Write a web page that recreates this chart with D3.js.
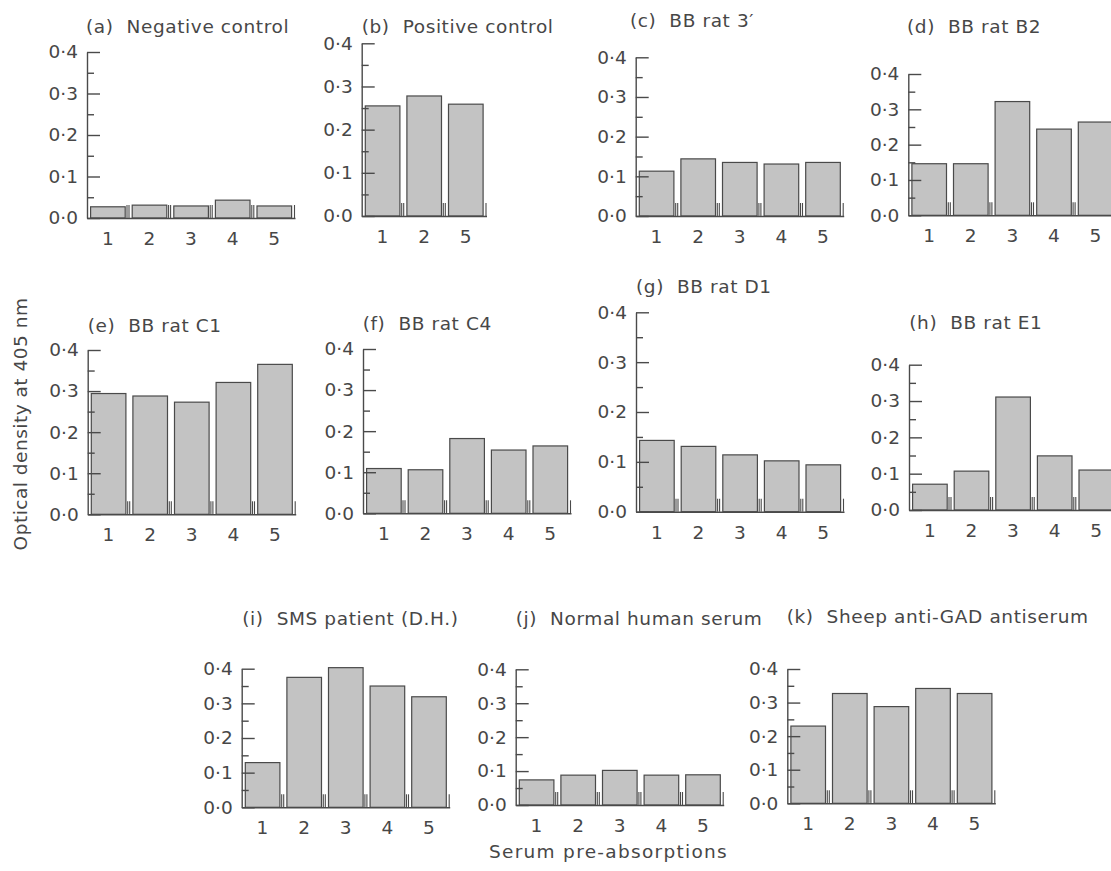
<!DOCTYPE html>
<html>
<head>
<meta charset="utf-8">
<script src="https://cdn.jsdelivr.net/npm/d3@7"></script>
<style>
  html, body { margin: 0; padding: 0; background: #ffffff; }
  svg { display: block; }
  text { font-family: "DejaVu Sans", "Liberation Sans", sans-serif; fill: #474747; }
</style>
</head>
<body>
<svg id="chart" width="1111" height="871"></svg>
<script>
// ---------------- data ----------------
const catsFive = ["1", "2", "3", "4", "5"];
const catsPositive = ["1", "2", "5"];
const yTickValues = [0, 0.1, 0.2, 0.3, 0.4];
const yMinorTicks = [0.05, 0.15, 0.25, 0.35];

const titles = [
  "(a)  Negative control", "(b)  Positive control", "(c)  BB rat 3\u2032", "(d)  BB rat B2",
  "(e)  BB rat C1", "(f)  BB rat C4", "(g)  BB rat D1", "(h)  BB rat E1",
  "(i)  SMS patient (D.H.)", "(j)  Normal human serum", "(k)  Sheep anti-GAD antiserum"
];

const valuesA = [0.027, 0.031, 0.029, 0.043, 0.029];
const valuesB = [0.255, 0.278, 0.259];
const valuesC = [0.113, 0.144, 0.135, 0.131, 0.135];
const valuesD = [0.146, 0.146, 0.322, 0.244, 0.264];
const valuesE = [0.294, 0.288, 0.273, 0.321, 0.365];
const valuesF = [0.109, 0.106, 0.182, 0.154, 0.164];
const valuesG = [0.143, 0.131, 0.114, 0.102, 0.094];
const valuesH = [0.071, 0.107, 0.311, 0.149, 0.110];
const valuesI = [0.129, 0.375, 0.403, 0.350, 0.319];
const valuesJ = [0.074, 0.088, 0.102, 0.088, 0.089];
const valuesK = [0.230, 0.327, 0.288, 0.342, 0.327];

const yAxisTitle = "Optical density at 405 nm";
const xAxisTitle = "Serum pre-absorptions";

// ---------------- layout (positions only) ----------------
const bandW = 41.6;
const layout = [
  { ax: 87,    y0: 218,   yTop: 52,    tx: 86,    ty: 33 },
  { ax: 361.7, y0: 216,   yTop: 43.3,  tx: 361.7, ty: 33 },
  { ax: 635.7, y0: 216,   yTop: 57.3,  tx: 630,   ty: 27 },
  { ax: 908.3, y0: 215.3, yTop: 74,    tx: 907,   ty: 33 },
  { ax: 87.7,  y0: 514.3, yTop: 350,   tx: 87.7,  ty: 331.7 },
  { ax: 363,   y0: 513.3, yTop: 349,   tx: 362.7, ty: 330 },
  { ax: 636,   y0: 511.7, yTop: 312.3, tx: 636,   ty: 293.3 },
  { ax: 909,   y0: 510,   yTop: 364.7, tx: 909.3, ty: 329 },
  { ax: 241.7, y0: 807.3, yTop: 668.7, tx: 242.3, ty: 625 },
  { ax: 515.7, y0: 805,   yTop: 669.3, tx: 515.7, ty: 625 },
  { ax: 787.3, y0: 803.3, yTop: 669,   tx: 786.7, ty: 623.3 }
];

const panelCats = [catsFive, catsPositive, catsFive, catsFive, catsFive, catsFive,
                   catsFive, catsFive, catsFive, catsFive, catsFive];
const panelValues = [valuesA, valuesB, valuesC, valuesD, valuesE, valuesF,
                     valuesG, valuesH, valuesI, valuesJ, valuesK];

// ---------------- drawing ----------------
const svg = d3.select("#chart");
const FONT = 18.5;
const INK = "#4a4a4a";
const fmt = d => d.toFixed(1).replace(".", "\u00B7");

panelValues.forEach((vals, p) => {
  const L = layout[p];
  const cats = panelCats[p];
  const g = svg.append("g");

  const x = d3.scaleBand().domain(cats).range([L.ax, L.ax + cats.length * bandW]).padding(0);
  const y = d3.scaleLinear().domain([0, 0.4]).range([L.y0, L.yTop]);

  // bars
  g.selectAll("rect.bar").data(cats).enter().append("rect")
    .attr("class", "bar")
    .attr("x", c => x(c) + 3.6)
    .attr("width", x.bandwidth() - 7)
    .attr("y", (c, i) => y(vals[i]))
    .attr("height", (c, i) => y(0) - y(vals[i]))
    .attr("fill", "#c3c3c3")
    .attr("stroke", INK)
    .attr("stroke-width", 1.2);

  // minor y ticks
  const minor = g.append("g").attr("transform", `translate(${L.ax},0)`)
    .call(d3.axisLeft(y).tickValues(yMinorTicks).tickSizeInner(-7).tickSizeOuter(0).tickFormat(""));
  minor.select(".domain").remove();

  // major y axis
  const yAx = g.append("g").attr("transform", `translate(${L.ax},0)`)
    .call(d3.axisLeft(y).tickValues(yTickValues).tickSizeInner(-13).tickSizeOuter(0)
      .tickPadding(9).tickFormat(fmt));

  [minor, yAx].forEach(a => {
    a.selectAll(".tick line").attr("stroke", INK).attr("stroke-width", 1.4);
    a.selectAll(".domain").attr("stroke", INK).attr("stroke-width", 1.4);
  });
  yAx.selectAll("text")
    .attr("font-family", "DejaVu Sans, Liberation Sans, sans-serif")
    .attr("font-size", FONT).attr("fill", "#474747");

  // x axis
  const xAx = g.append("g").attr("transform", `translate(0,${L.y0})`)
    .call(d3.axisBottom(x).tickSize(0).tickPadding(14));
  xAx.select(".domain").attr("stroke", INK).attr("stroke-width", 1.4);
  xAx.selectAll("text")
    .attr("font-family", "DejaVu Sans, Liberation Sans, sans-serif")
    .attr("font-size", FONT).attr("fill", "#474747");

  // category boundary ticks ("||" marks)
  const bounds = d3.range(1, cats.length + 1).map(i => x.range()[0] + i * x.step());
  bounds.forEach((bx, i) => {
    const offs = i === cats.length - 1 ? [-0.5] : [-1.6, 0.4];
    offs.forEach(o => {
      g.append("line")
        .attr("x1", bx + o).attr("x2", bx + o)
        .attr("y1", L.y0).attr("y2", L.y0 - 13)
        .attr("stroke", INK).attr("stroke-width", 1.1);
    });
  });

  // title
  g.append("text")
    .attr("x", L.tx).attr("y", L.ty)
    .attr("font-size", FONT)
    .attr("letter-spacing", "0.6px")
    .style("white-space", "pre")
    .attr("xml:space", "preserve")
    .text(titles[p]);
});

// axis titles
svg.append("text")
  .attr("transform", "translate(27,424) rotate(-90)")
  .attr("text-anchor", "middle")
  .attr("font-size", FONT)
  .attr("letter-spacing", "0.5px")
  .text(yAxisTitle);

svg.append("text")
  .attr("x", 608.5).attr("y", 858)
  .attr("text-anchor", "middle")
  .attr("font-size", FONT)
  .attr("letter-spacing", "1.3px")
  .text(xAxisTitle);
</script>
</body>
</html>
